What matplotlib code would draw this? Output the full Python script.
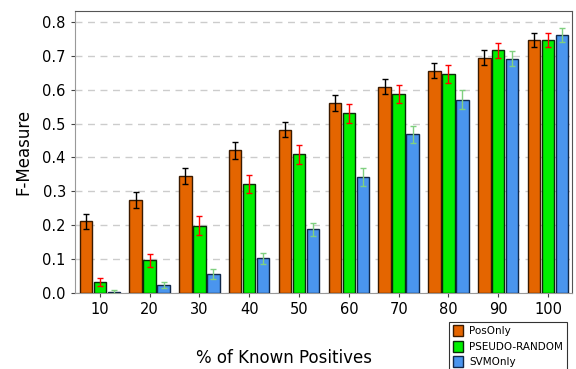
import matplotlib
matplotlib.use('Agg')
import matplotlib.pyplot as plt
import numpy as np

# porcentaje de positivos conocidos
categorias = ['10', '20', '30', '40', '50', '60', '70', '80', '90', '100']

posonly = [0.211, 0.275, 0.345, 0.421, 0.482, 0.560, 0.609, 0.656, 0.694, 0.747]
posonly_err = [0.022, 0.023, 0.024, 0.025, 0.023, 0.023, 0.022, 0.022, 0.022, 0.020]

pseudo = [0.033, 0.096, 0.198, 0.321, 0.409, 0.531, 0.588, 0.646, 0.716, 0.747]
pseudo_err = [0.0125, 0.018, 0.028, 0.026, 0.029, 0.028, 0.026, 0.026, 0.022, 0.021]

svmonly = [0.002, 0.023, 0.056, 0.102, 0.188, 0.342, 0.469, 0.570, 0.691, 0.762]
svmonly_err = [0.006, 0.009, 0.016, 0.017, 0.020, 0.026, 0.025, 0.028, 0.022, 0.021]

fig = plt.figure(figsize=(5.76, 3.69), dpi=100)
ax = fig.add_axes([0.130, 0.206, 0.863, 0.764])

x = np.arange(len(categorias))
ancho = 0.25
sep = 0.28

ax.bar(x - sep, posonly, ancho, color='#E46500', edgecolor='#3a1a00', linewidth=1,
       yerr=posonly_err, error_kw=dict(ecolor='black', capsize=2.5, elinewidth=1), label='PosOnly', zorder=3)
ax.bar(x, pseudo, ancho, color='#00F000', edgecolor='#0a2a0a', linewidth=1,
       yerr=pseudo_err, error_kw=dict(ecolor='#FF0000', capsize=2.5, elinewidth=1), label='PSEUDO-RANDOM', zorder=3)
ax.bar(x + sep, svmonly, ancho, color='#4A95EE', edgecolor='#10284a', linewidth=1,
       yerr=svmonly_err, error_kw=dict(ecolor='#80D080', capsize=2.5, elinewidth=1), label='SVMOnly', zorder=3)

ax.set_xlim(-0.5, 9.48)
ax.set_ylim(0, 0.832)
ax.set_yticks(np.arange(0, 0.81, 0.1))
ax.set_yticklabels(['%.1f' % v for v in np.arange(0, 0.81, 0.1)])
ax.set_xticks(x)
ax.set_xticklabels(categorias)
ax.tick_params(labelsize=10.5, length=3, color='#444444')
ax.yaxis.grid(True, linestyle=(0, (5, 4)), color='#cccccc', linewidth=1, zorder=0)
ax.set_axisbelow(True)

for lado in ['left', 'bottom']:
    ax.spines[lado].set_color('#999999')
for lado in ['top', 'right']:
    ax.spines[lado].set_color('#555555')

ax.set_ylabel('F-Measure', fontsize=12)
ax.yaxis.set_label_coords(-0.086, 0.5)
ax.set_xlabel('% of Known Positives', fontsize=12)
ax.xaxis.set_label_coords(0.42, -0.2)

leg = fig.legend(loc='upper left', bbox_to_anchor=(0.7795, 0.128), fontsize=7.5,
                 frameon=True, fancybox=False, edgecolor='black', handlelength=1.0,
                 handleheight=1.2, borderpad=0.35, labelspacing=0.45, handletextpad=0.6,
                 borderaxespad=0)
leg.get_frame().set_linewidth(0.8)

fig.savefig('out.png', dpi=100)
